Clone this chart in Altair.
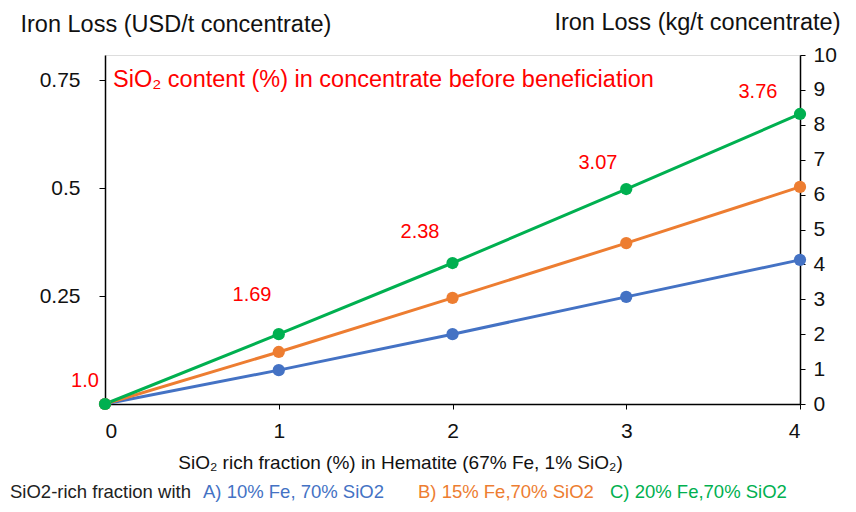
import altair as alt
import pandas as pd

# ---- data ----
x_vals = [0, 1, 2, 3, 4]
series_a = [0, 0.97, 2.0, 3.07, 4.13]   # A) 10% Fe, 70% SiO2 (kg/t)
series_b = [0, 1.49, 3.04, 4.61, 6.22]  # B) 15% Fe, 70% SiO2
series_c = [0, 2.0, 4.04, 6.16, 8.31]   # C) 20% Fe, 70% SiO2
series_names = ["A", "B", "C"]
series_colors = ["#4472C4", "#ED7D31", "#00B050"]

annot_labels = ["1.0", "1.69", "2.38", "3.07", "3.76"]
annot_x = [-0.115, 0.846, 1.813, 2.837, 3.758]
annot_y = [0.66, 3.12, 4.93, 6.9, 8.94]

left_ticks = [0.25, 0.5, 0.75]
left_max = 0.808
right_ticks = list(range(0, 11))
x_ticks = [0, 1, 2, 3, 4]

legend_parts = ["SiO2-rich fraction with", "A) 10% Fe, 70% SiO2", "B) 15% Fe,70% SiO2", "C) 20% Fe,70% SiO2"]
legend_colors = ["#222222", "#4472C4", "#ED7D31", "#00B050"]

FONT = "Liberation Sans"
W, H = 695, 349

rows = []
for name, vals in zip(series_names, [series_a, series_b, series_c]):
    for xv, yv in zip(x_vals, vals):
        rows.append({"x": xv, "kg": yv, "series": name})
df = pd.DataFrame(rows)

annot_df = pd.DataFrame({"x": annot_x, "kg": annot_y, "label": annot_labels})

x_enc = alt.X("x:Q", scale=alt.Scale(domain=[0, 4], nice=False),
              axis=alt.Axis(values=x_ticks, format="d",
                            title="SiO₂ rich fraction (%) in Hematite (67% Fe, 1% SiO₂)",
                            grid=False, domainColor="black", domainWidth=1.5, tickColor="black",
                            tickSize=5, labelFontSize=21, labelPadding=11, labelColor="#111",
                            titleFontSize=19, titleFontWeight="normal", titlePadding=12, titleColor="#111",
                            titleX=295, titleAlign="center"))

y_right = alt.Y("kg:Q", scale=alt.Scale(domain=[0, 10], nice=False),
                axis=alt.Axis(orient="right", values=right_ticks, grid=False, domainColor="black",
                              domainWidth=1.5, tickColor="black", tickSize=5, labelFontSize=21,
                              labelPadding=8, labelColor="#111", labelOverlap=False,
                              title="Iron Loss (kg/t concentrate)", titleAngle=0, titleAlign="right",
                              titleBaseline="middle", titleX=40, titleY=-33, titleFontSize=23.5,
                              titleFontWeight="normal", titleColor="#111"))

color_enc = alt.Color("series:N", scale=alt.Scale(domain=series_names, range=series_colors), legend=None)

lines = alt.Chart(df).mark_line(strokeWidth=3).encode(x=x_enc, y=y_right, color=color_enc, order="x:Q")
points = alt.Chart(df).mark_circle(size=150, opacity=1).encode(x=x_enc, y=y_right, color=color_enc)
annots = alt.Chart(annot_df).mark_text(color="#FF0000", fontSize=20, font=FONT, baseline="middle",
                                       align="center").encode(x=x_enc, y=y_right, text="label:N")

right_group = alt.layer(lines, points, annots)

left_df = pd.DataFrame({"usd": [0.0]})
left_dummy = alt.Chart(left_df).mark_point(opacity=0).encode(
    x=alt.value(0),
    y=alt.Y("usd:Q", scale=alt.Scale(domain=[0, left_max], nice=False),
            axis=alt.Axis(orient="left", values=left_ticks, labelExpr="toString(datum.value)",
                          grid=False, domainColor="black", domainWidth=1.5, tickColor="black",
                          tickSize=6, labelFontSize=21, labelPadding=19, labelColor="#111",
                          labelOverlap=False,
                          title="Iron Loss (USD/t concentrate)", titleAngle=0, titleAlign="left",
                          titleBaseline="middle", titleX=-85, titleY=-31, titleFontSize=23.5,
                          titleFontWeight="normal", titleColor="#111"))
)

title_df = pd.DataFrame({"t": ["SiO₂ content (%) in concentrate before beneficiation"]})
red_title = alt.Chart(title_df).mark_text(color="#FF0000", fontSize=23.5, font=FONT, align="left",
                                          baseline="middle").encode(
    x=alt.value(8), y=alt.value(25), text="t:N")

legend_x = [-95, 98, 313, 505]
legend_layers = []
for part, col, lx in zip(legend_parts, legend_colors, legend_x):
    legend_layers.append(
        alt.Chart(pd.DataFrame({"t": [part]})).mark_text(color=col, fontSize=18.5, font=FONT, align="left",
                                                         baseline="middle").encode(
            x=alt.value(lx), y=alt.value(437), text="t:N"))

chart = alt.layer(left_dummy, right_group, red_title, *legend_layers).resolve_scale(y="independent").properties(
    width=W, height=H,
    autosize=alt.AutoSizeParams(type="none"),
    padding={"left": 97, "top": 47, "right": 48, "bottom": 100},
).configure_view(stroke="black", strokeWidth=1.5).configure(font=FONT)

chart.save("out.html", embed_options={"renderer": "svg", "actions": False})
